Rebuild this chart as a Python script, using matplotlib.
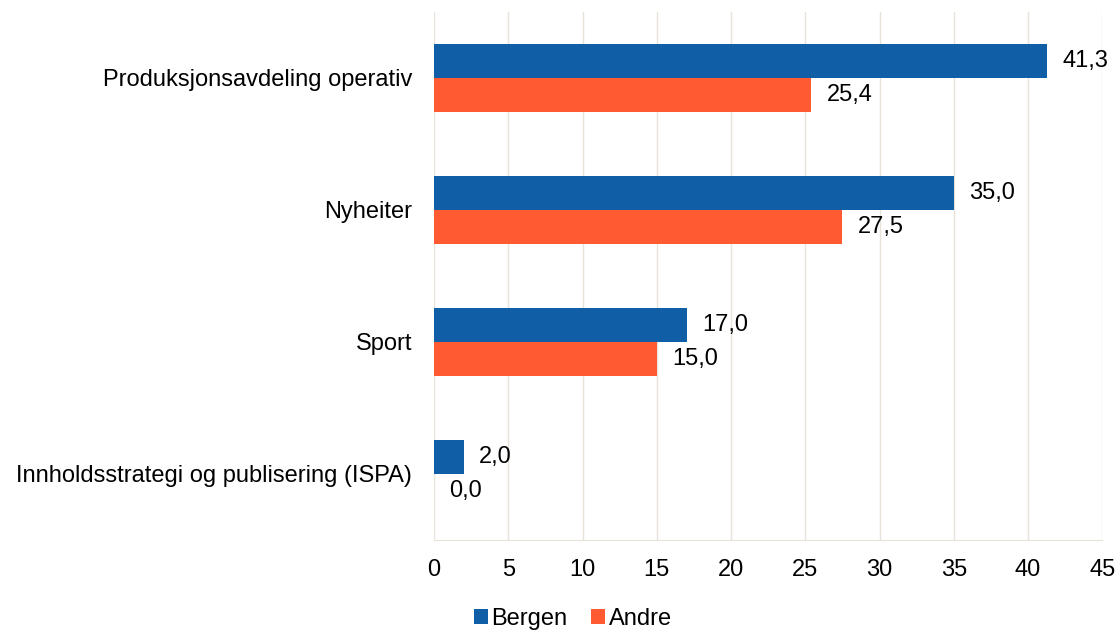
import matplotlib.pyplot as plt
import numpy as np

plt.rcParams['font.family'] = ['Liberation Sans', 'DejaVu Sans']

categories = ["Produksjonsavdeling operativ", "Nyheiter", "Sport",
              "Innholdsstrategi og publisering (ISPA)"]
bergen = [41.3, 35.0, 17.0, 2.0]
andre = [25.4, 27.5, 15.0, 0.0]
xticks = [0, 5, 10, 15, 20, 25, 30, 35, 40, 45]

blue = "#0f5ea6"
orange = "#ff5a31"
grid = "#e8e3d8"
fs = 17

fig = plt.figure(figsize=(11.19, 6.32), dpi=100)
ax = fig.add_axes([0.388, 0.146, 0.597, 0.835])

y = np.arange(len(categories))
h = 0.258
ax.barh(y - h / 2, bergen, height=h, color=blue, label="Bergen", zorder=3)
ax.barh(y + h / 2, andre, height=h, color=orange, label="Andre", zorder=3)

for yi, v in zip(y - h / 2, bergen):
    ax.annotate(f"{v:.1f}".replace(".", ","), (v, yi), xytext=(11, 0),
                textcoords="offset points", ha="left", va="center", fontsize=fs)
for yi, v in zip(y + h / 2, andre):
    ax.annotate(f"{v:.1f}".replace(".", ","), (v, yi), xytext=(11, 0),
                textcoords="offset points", ha="left", va="center", fontsize=fs)

ax.set_xlim(0, 45)
ax.set_ylim(len(categories) - 0.5, -0.5)
ax.set_xticks(xticks)
ax.set_xticklabels([str(t) for t in xticks], fontsize=fs)
ax.set_yticks(y)
ax.set_yticklabels(categories, fontsize=fs)
ax.tick_params(length=0)
ax.tick_params(axis="x", pad=14)
ax.tick_params(axis="y", pad=16)
ax.grid(axis="x", color=grid, linewidth=1, zorder=0)
for s in ["top", "right", "left"]:
    ax.spines[s].set_visible(False)
ax.spines["bottom"].set_color(grid)

fig.legend(loc="lower center", bbox_to_anchor=(0.512, -0.03), ncol=2, frameon=False,
           fontsize=fs, handlelength=0.6, handleheight=0.6, handletextpad=0.15,
           columnspacing=1.0)

fig.savefig("out.png", dpi=100)
